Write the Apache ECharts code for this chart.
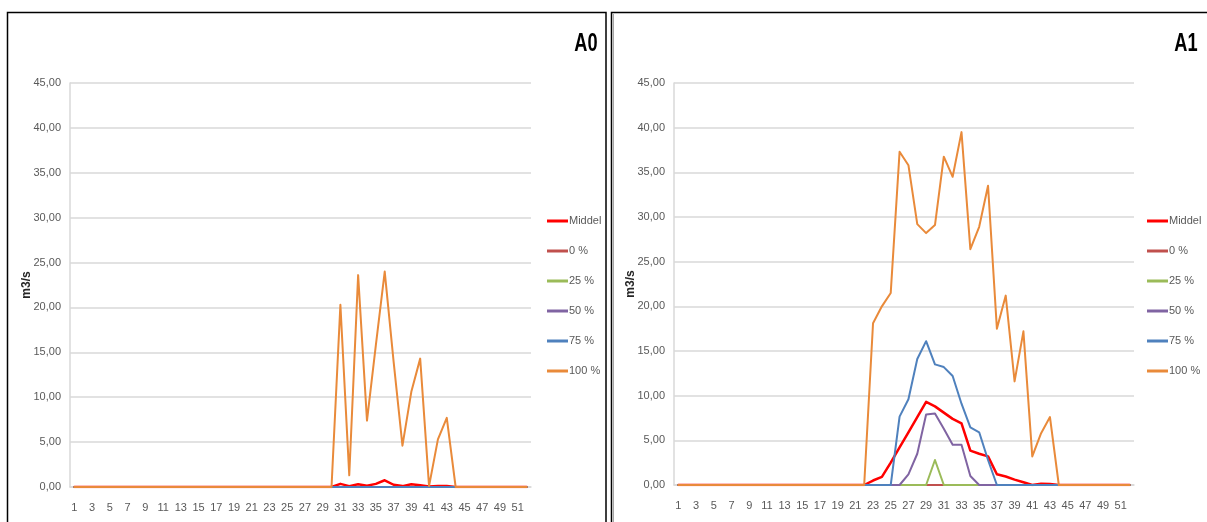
<!DOCTYPE html>
<html>
<head>
<meta charset="utf-8">
<script src="https://cdn.jsdelivr.net/npm/echarts@6/dist/echarts.min.js"></script>
<style>
  html, body { margin: 0; padding: 0; background: #ffffff; }
  #chart { width: 1207px; height: 522px; }
</style>
</head>
<body>
<div id="chart"></div>
<script>
// Week numbers on the category axis
var weeks = ['1','2','3','4','5','6','7','8','9','10','11','12','13','14','15','16','17','18','19','20',
             '21','22','23','24','25','26','27','28','29','30','31','32','33','34','35','36','37','38','39','40',
             '41','42','43','44','45','46','47','48','49','50','51','52'];

var seriesNames = ['Middel', '0 %', '25 %', '50 %', '75 %', '100 %'];
var seriesColors = ['#ff0000', '#c0504d', '#9bbb59', '#8064a2', '#4f81bd', '#e98a3a'];

// Y axis ticks (m3/s)
var yTicks = [0, 5, 10, 15, 20, 25, 30, 35, 40, 45];

// ---- A0 ----
var a0Middel = [0,0,0,0,0,0,0,0,0,0, 0,0,0,0,0,0,0,0,0,0, 0,0,0,0,0,0,0,0,0,0,
                0.35,0.1,0.3,0.15,0.35,0.75,0.25,0.1,0.3,0.2, 0.05,0.1,0.1,0,0,0,0,0,0,0, 0,0];
var a0P0   = [0,0,0,0,0,0,0,0,0,0, 0,0,0,0,0,0,0,0,0,0, 0,0,0,0,0,0,0,0,0,0,
              0,0,0,0,0,0,0,0,0,0, 0,0,0,0,0,0,0,0,0,0, 0,0];
var a0P25  = [0,0,0,0,0,0,0,0,0,0, 0,0,0,0,0,0,0,0,0,0, 0,0,0,0,0,0,0,0,0,0,
              0,0,0,0,0,0,0,0,0,0, 0,0,0,0,0,0,0,0,0,0, 0,0];
var a0P50  = [0,0,0,0,0,0,0,0,0,0, 0,0,0,0,0,0,0,0,0,0, 0,0,0,0,0,0,0,0,0,0,
              0,0,0,0,0,0,0,0,0,0, 0,0,0,0,0,0,0,0,0,0, 0,0];
var a0P75  = [0,0,0,0,0,0,0,0,0,0, 0,0,0,0,0,0,0,0,0,0, 0,0,0,0,0,0,0,0,0,0,
              0,0,0,0,0,0,0,0,0,0, 0,0,0,0,0,0,0,0,0,0, 0,0];
var a0P100 = [0,0,0,0,0,0,0,0,0,0, 0,0,0,0,0,0,0,0,0,0, 0,0,0,0,0,0,0,0,0,0,
              20.3,1.3,23.6,7.4,15.8,24.0,14.0,4.6,10.6,14.3, 0.1,5.3,7.7,0,0,0,0,0,0,0, 0,0];

// ---- A1 ----
var a1Middel = [0,0,0,0,0,0,0,0,0,0, 0,0,0,0,0,0,0,0,0,0, 0,0,0.5,0.9,2.5,4.2,5.9,7.6,9.3,8.8,
                8.1,7.4,6.9,3.85,3.5,3.2,1.2,0.95,0.6,0.3, 0,0.15,0.1,0,0,0,0,0,0,0, 0,0];
var a1P0   = [0,0,0,0,0,0,0,0,0,0, 0,0,0,0,0,0,0,0,0,0, 0,0,0,0,0,0,0,0,0,0,
              0,0,0,0,0,0,0,0,0,0, 0,0,0,0,0,0,0,0,0,0, 0,0];
var a1P25  = [0,0,0,0,0,0,0,0,0,0, 0,0,0,0,0,0,0,0,0,0, 0,0,0,0,0,0,0,0,0,2.8,
              0,0,0,0,0,0,0,0,0,0, 0,0,0,0,0,0,0,0,0,0, 0,0];
var a1P50  = [0,0,0,0,0,0,0,0,0,0, 0,0,0,0,0,0,0,0,0,0, 0,0,0,0,0,0,1.2,3.5,7.9,8.0,
              6.3,4.5,4.5,1.0,0,0,0,0,0,0, 0,0,0,0,0,0,0,0,0,0, 0,0];
var a1P75  = [0,0,0,0,0,0,0,0,0,0, 0,0,0,0,0,0,0,0,0,0, 0,0,0,0,0,7.65,9.6,14.1,16.1,13.5,
              13.2,12.2,9.1,6.45,5.9,2.8,0,0,0,0, 0,0,0,0,0,0,0,0,0,0, 0,0];
var a1P100 = [0,0,0,0,0,0,0,0,0,0, 0,0,0,0,0,0,0,0,0,0, 0,0,18.1,20.0,21.5,37.3,35.8,29.2,28.2,29.1,
              36.75,34.5,39.5,26.4,28.9,33.5,17.5,21.2,11.6,17.2, 3.2,5.8,7.6,0,0,0,0,0,0,0, 0,0];

var panels = [
  { title: 'A0', data: [a0Middel, a0P0, a0P25, a0P50, a0P75, a0P100] },
  { title: 'A1', data: [a1Middel, a1P0, a1P25, a1P50, a1P75, a1P100] }
];

var FONT = "'Liberation Sans Narrow', 'Liberation Sans', Arial, sans-serif";
var GRID_LINE = '#d9d9d9';
var LABEL = '#595959';

// Plot area and legend placement for each panel
var layout = [
  { grid: { left: 70, top: 83, width: 461, height: 404 }, legendLeft: 547, titleX: 586 },
  { grid: { left: 674, top: 83, width: 460, height: 402 }, legendLeft: 1147, titleX: 1186 }
];

var grids = [], xAxes = [], yAxes = [], legends = [], series = [], graphics = [];

panels.forEach(function (panel, p) {
  var L = layout[p];
  grids.push(Object.assign({ containLabel: false }, L.grid));

  xAxes.push({
    type: 'category',
    gridIndex: p,
    data: weeks,
    boundaryGap: true,
    axisLine: { show: true, lineStyle: { color: GRID_LINE, width: 1.5 } },
    axisTick: { show: false },
    axisLabel: { interval: 1, color: LABEL, fontFamily: FONT, fontSize: 11, margin: 15 },
    splitLine: { show: false }
  });

  yAxes.push({
    type: 'value',
    gridIndex: p,
    min: yTicks[0],
    max: yTicks[yTicks.length - 1],
    interval: yTicks[1] - yTicks[0],
    name: 'm3/s',
    nameLocation: 'middle',
    nameRotate: 90,
    nameGap: 37,
    nameMoveOverlap: false,
    nameTextStyle: { fontFamily: FONT, fontSize: 12, fontWeight: 'bold', color: '#262626' },
    axisLine: { show: true, lineStyle: { color: GRID_LINE, width: 1.5 } },
    axisTick: { show: false },
    axisLabel: {
      color: LABEL, fontFamily: FONT, fontSize: 11, margin: 9,
      formatter: function (v) { return v.toFixed(2).replace('.', ','); }
    },
    splitLine: { show: true, lineStyle: { color: GRID_LINE, width: 1.5 } }
  });

  legends.push({
    orient: 'vertical',
    left: L.legendLeft,
    top: 214,
    padding: 0,
    itemGap: 16,
    itemWidth: 21,
    itemHeight: 3,
    icon: 'rect',
    data: seriesNames,
    selectedMode: false,
    textStyle: { fontFamily: FONT, fontSize: 11, color: LABEL, lineHeight: 14, padding: [0, 0, 0, -4] }
  });

  panel.data.forEach(function (values, i) {
    series.push({
      type: 'line',
      name: seriesNames[i],
      xAxisIndex: p,
      yAxisIndex: p,
      data: values,
      symbol: 'none',
      color: seriesColors[i],
      lineStyle: { color: seriesColors[i], width: i === 0 ? 2.5 : 2, join: 'round', cap: 'round' },
      emphasis: { disabled: true }
    });
  });

  graphics.push({
    type: 'text',
    x: L.titleX,
    y: 44,
    scaleX: 0.7,
    style: {
      text: panel.title,
      fontFamily: FONT,
      fontSize: 26,
      fontWeight: 'bold',
      fill: '#000000',
      align: 'center',
      verticalAlign: 'middle'
    }
  });
});

// Panel frames
graphics.push(
  { type: 'rect', shape: { x: 7.5, y: 12.5, width: 598.5, height: 520 },
    style: { fill: null, stroke: '#000000', lineWidth: 1.5 }, silent: true },
  { type: 'rect', shape: { x: 611.5, y: 12.5, width: 610, height: 520 },
    style: { fill: null, stroke: '#000000', lineWidth: 1.5 }, silent: true },
  { type: 'line', shape: { x1: 613.5, y1: 14, x2: 613.5, y2: 522 },
    style: { stroke: '#a6a6a6', lineWidth: 1 }, silent: true }
);

var chart = echarts.init(document.getElementById('chart'), null, { renderer: 'canvas' });
chart.setOption({
  animation: false,
  backgroundColor: '#ffffff',
  tooltip: { show: false },
  grid: grids,
  xAxis: xAxes,
  yAxis: yAxes,
  legend: legends,
  series: series,
  graphic: graphics
});
</script>
</body>
</html>
